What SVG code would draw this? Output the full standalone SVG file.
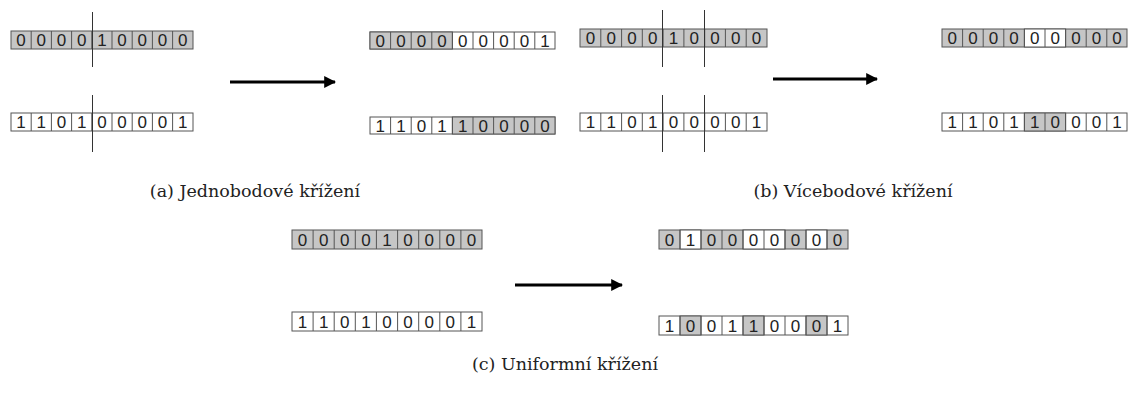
<svg xmlns="http://www.w3.org/2000/svg" width="1130" height="398" viewBox="0 0 1130 398">
  <style>
    .g { fill: #c6c6c6; stroke: #555; stroke-width: 1; }
    .w { fill: #ffffff; stroke: #555; stroke-width: 1; }
    .b { font-family: "Liberation Sans", Arial, sans-serif; font-size: 17px; fill: #222; text-anchor: middle; }
    .cut { stroke: #333; stroke-width: 1; }
    .arr { stroke: #000; stroke-width: 3; fill: none; }
    .cap { font-family: "DejaVu Serif", "Liberation Serif", serif; font-size: 17.5px; fill: #222; text-anchor: middle; }
  </style>
  <defs>
    <marker id="head" viewBox="0 0 10 10" refX="9" refY="5" markerWidth="4" markerHeight="4" orient="auto" markerUnits="strokeWidth">
      <path d="M0,0 L10,5 L0,10 Z" fill="#000"/>
    </marker>
  </defs>

  <!-- (a) one-point crossover -->
  <g id="a-parent1" transform="translate(11,31)">
    <rect class="g" x="0" y="0" width="182" height="18"/>
    <g stroke="#555">
      <line x1="20.2" y1="0" x2="20.2" y2="18"/><line x1="40.4" y1="0" x2="40.4" y2="18"/><line x1="60.6" y1="0" x2="60.6" y2="18"/><line x1="80.8" y1="0" x2="80.8" y2="18"/><line x1="101" y1="0" x2="101" y2="18"/><line x1="121.2" y1="0" x2="121.2" y2="18"/><line x1="141.4" y1="0" x2="141.4" y2="18"/><line x1="161.6" y1="0" x2="161.6" y2="18"/>
    </g>
    <text class="b" y="15.2"><tspan x="10.1">0</tspan><tspan x="30.3">0</tspan><tspan x="50.5">0</tspan><tspan x="70.7">0</tspan><tspan x="90.9">1</tspan><tspan x="111.1">0</tspan><tspan x="131.3">0</tspan><tspan x="151.5">0</tspan><tspan x="171.7">0</tspan></text>
  </g>
  <g id="a-parent2" transform="translate(11,113)">
    <rect class="w" x="0" y="0" width="182" height="18"/>
    <g stroke="#555">
      <line x1="20.2" y1="0" x2="20.2" y2="18"/><line x1="40.4" y1="0" x2="40.4" y2="18"/><line x1="60.6" y1="0" x2="60.6" y2="18"/><line x1="80.8" y1="0" x2="80.8" y2="18"/><line x1="101" y1="0" x2="101" y2="18"/><line x1="121.2" y1="0" x2="121.2" y2="18"/><line x1="141.4" y1="0" x2="141.4" y2="18"/><line x1="161.6" y1="0" x2="161.6" y2="18"/>
    </g>
    <text class="b" y="15.2"><tspan x="10.1">1</tspan><tspan x="30.3">1</tspan><tspan x="50.5">0</tspan><tspan x="70.7">1</tspan><tspan x="90.9">0</tspan><tspan x="111.1">0</tspan><tspan x="131.3">0</tspan><tspan x="151.5">0</tspan><tspan x="171.7">1</tspan></text>
  </g>
  <g id="a-child1" transform="translate(370,32)">
    <rect class="w" x="0" y="0" width="185" height="17"/>
    <rect class="g" x="0" y="0" width="82.4" height="17"/>
    <g stroke="#555">
      <line x1="20.6" y1="0" x2="20.6" y2="17"/><line x1="41.2" y1="0" x2="41.2" y2="17"/><line x1="61.8" y1="0" x2="61.8" y2="17"/><line x1="82.4" y1="0" x2="82.4" y2="17"/><line x1="103" y1="0" x2="103" y2="17"/><line x1="123.6" y1="0" x2="123.6" y2="17"/><line x1="144.2" y1="0" x2="144.2" y2="17"/><line x1="164.8" y1="0" x2="164.8" y2="17"/>
    </g>
    <text class="b" y="14.7"><tspan x="10.3">0</tspan><tspan x="30.9">0</tspan><tspan x="51.5">0</tspan><tspan x="72.1">0</tspan><tspan x="92.7">0</tspan><tspan x="113.3">0</tspan><tspan x="133.9">0</tspan><tspan x="154.5">0</tspan><tspan x="175.1">1</tspan></text>
  </g>
  <g id="a-child2" transform="translate(370,117)">
    <rect class="w" x="0" y="0" width="185" height="17"/>
    <rect class="g" x="82.4" y="0" width="102.6" height="17"/>
    <g stroke="#555">
      <line x1="20.6" y1="0" x2="20.6" y2="17"/><line x1="41.2" y1="0" x2="41.2" y2="17"/><line x1="61.8" y1="0" x2="61.8" y2="17"/><line x1="82.4" y1="0" x2="82.4" y2="17"/><line x1="103" y1="0" x2="103" y2="17"/><line x1="123.6" y1="0" x2="123.6" y2="17"/><line x1="144.2" y1="0" x2="144.2" y2="17"/><line x1="164.8" y1="0" x2="164.8" y2="17"/>
    </g>
    <text class="b" y="14.7"><tspan x="10.3">1</tspan><tspan x="30.9">1</tspan><tspan x="51.5">0</tspan><tspan x="72.1">1</tspan><tspan x="92.7">1</tspan><tspan x="113.3">0</tspan><tspan x="133.9">0</tspan><tspan x="154.5">0</tspan><tspan x="175.1">0</tspan></text>
  </g>

  <!-- (b) multi-point crossover -->
  <g id="b-parent1" transform="translate(580,29)">
    <rect class="g" x="0" y="0" width="187" height="18"/>
    <g stroke="#555">
      <line x1="20.8" y1="0" x2="20.8" y2="18"/><line x1="41.6" y1="0" x2="41.6" y2="18"/><line x1="62.3" y1="0" x2="62.3" y2="18"/><line x1="83.1" y1="0" x2="83.1" y2="18"/><line x1="103.9" y1="0" x2="103.9" y2="18"/><line x1="124.7" y1="0" x2="124.7" y2="18"/><line x1="145.4" y1="0" x2="145.4" y2="18"/><line x1="166.2" y1="0" x2="166.2" y2="18"/>
    </g>
    <text class="b" y="15.2"><tspan x="10.4">0</tspan><tspan x="31.2">0</tspan><tspan x="52">0</tspan><tspan x="72.7">0</tspan><tspan x="93.5">1</tspan><tspan x="114.3">0</tspan><tspan x="135.1">0</tspan><tspan x="155.8">0</tspan><tspan x="176.6">0</tspan></text>
  </g>
  <g id="b-parent2" transform="translate(580,113)">
    <rect class="w" x="0" y="0" width="187" height="18"/>
    <g stroke="#555">
      <line x1="20.8" y1="0" x2="20.8" y2="18"/><line x1="41.6" y1="0" x2="41.6" y2="18"/><line x1="62.3" y1="0" x2="62.3" y2="18"/><line x1="83.1" y1="0" x2="83.1" y2="18"/><line x1="103.9" y1="0" x2="103.9" y2="18"/><line x1="124.7" y1="0" x2="124.7" y2="18"/><line x1="145.4" y1="0" x2="145.4" y2="18"/><line x1="166.2" y1="0" x2="166.2" y2="18"/>
    </g>
    <text class="b" y="15.2"><tspan x="10.4">1</tspan><tspan x="31.2">1</tspan><tspan x="52">0</tspan><tspan x="72.7">1</tspan><tspan x="93.5">0</tspan><tspan x="114.3">0</tspan><tspan x="135.1">0</tspan><tspan x="155.8">0</tspan><tspan x="176.6">1</tspan></text>
  </g>
  <g id="b-child1" transform="translate(942,29)">
    <rect class="g" x="0" y="0" width="185" height="18"/>
    <rect class="w" x="82.4" y="0" width="41.2" height="18"/>
    <g stroke="#555">
      <line x1="20.6" y1="0" x2="20.6" y2="18"/><line x1="41.2" y1="0" x2="41.2" y2="18"/><line x1="61.8" y1="0" x2="61.8" y2="18"/><line x1="82.4" y1="0" x2="82.4" y2="18"/><line x1="103" y1="0" x2="103" y2="18"/><line x1="123.6" y1="0" x2="123.6" y2="18"/><line x1="144.2" y1="0" x2="144.2" y2="18"/><line x1="164.8" y1="0" x2="164.8" y2="18"/>
    </g>
    <text class="b" y="15.2"><tspan x="10.3">0</tspan><tspan x="30.9">0</tspan><tspan x="51.5">0</tspan><tspan x="72.1">0</tspan><tspan x="92.7">0</tspan><tspan x="113.3">0</tspan><tspan x="133.9">0</tspan><tspan x="154.5">0</tspan><tspan x="175.1">0</tspan></text>
  </g>
  <g id="b-child2" transform="translate(942,113)">
    <rect class="w" x="0" y="0" width="185" height="18"/>
    <rect class="g" x="82.4" y="0" width="41.2" height="18"/>
    <g stroke="#555">
      <line x1="20.6" y1="0" x2="20.6" y2="18"/><line x1="41.2" y1="0" x2="41.2" y2="18"/><line x1="61.8" y1="0" x2="61.8" y2="18"/><line x1="82.4" y1="0" x2="82.4" y2="18"/><line x1="103" y1="0" x2="103" y2="18"/><line x1="123.6" y1="0" x2="123.6" y2="18"/><line x1="144.2" y1="0" x2="144.2" y2="18"/><line x1="164.8" y1="0" x2="164.8" y2="18"/>
    </g>
    <text class="b" y="15.2"><tspan x="10.3">1</tspan><tspan x="30.9">1</tspan><tspan x="51.5">0</tspan><tspan x="72.1">1</tspan><tspan x="92.7">1</tspan><tspan x="113.3">0</tspan><tspan x="133.9">0</tspan><tspan x="154.5">0</tspan><tspan x="175.1">1</tspan></text>
  </g>

  <!-- (c) uniform crossover -->
  <g id="c-parent1" transform="translate(292,230)">
    <rect class="g" x="0" y="0" width="190" height="19"/>
    <g stroke="#555">
      <line x1="21.1" y1="0" x2="21.1" y2="19"/><line x1="42.2" y1="0" x2="42.2" y2="19"/><line x1="63.3" y1="0" x2="63.3" y2="19"/><line x1="84.4" y1="0" x2="84.4" y2="19"/><line x1="105.6" y1="0" x2="105.6" y2="19"/><line x1="126.7" y1="0" x2="126.7" y2="19"/><line x1="147.8" y1="0" x2="147.8" y2="19"/><line x1="168.9" y1="0" x2="168.9" y2="19"/>
    </g>
    <text class="b" y="15.8"><tspan x="10.6">0</tspan><tspan x="31.7">0</tspan><tspan x="52.8">0</tspan><tspan x="73.9">0</tspan><tspan x="95">1</tspan><tspan x="116.1">0</tspan><tspan x="137.2">0</tspan><tspan x="158.3">0</tspan><tspan x="179.4">0</tspan></text>
  </g>
  <g id="c-parent2" transform="translate(292,312)">
    <rect class="w" x="0" y="0" width="190" height="19"/>
    <g stroke="#555">
      <line x1="21.1" y1="0" x2="21.1" y2="19"/><line x1="42.2" y1="0" x2="42.2" y2="19"/><line x1="63.3" y1="0" x2="63.3" y2="19"/><line x1="84.4" y1="0" x2="84.4" y2="19"/><line x1="105.6" y1="0" x2="105.6" y2="19"/><line x1="126.7" y1="0" x2="126.7" y2="19"/><line x1="147.8" y1="0" x2="147.8" y2="19"/><line x1="168.9" y1="0" x2="168.9" y2="19"/>
    </g>
    <text class="b" y="15.8"><tspan x="10.6">1</tspan><tspan x="31.7">1</tspan><tspan x="52.8">0</tspan><tspan x="73.9">1</tspan><tspan x="95">0</tspan><tspan x="116.1">0</tspan><tspan x="137.2">0</tspan><tspan x="158.3">0</tspan><tspan x="179.4">1</tspan></text>
  </g>
  <g id="c-child1" transform="translate(659,230)">
    <rect class="g" x="0" y="0" width="189" height="19"/>
    <rect class="w" x="21" y="0" width="21" height="19"/>
    <rect class="w" x="84" y="0" width="42" height="19"/>
    <rect class="w" x="147" y="0" width="21" height="19"/>
    <g stroke="#555">
      <line x1="21" y1="0" x2="21" y2="19"/><line x1="42" y1="0" x2="42" y2="19"/><line x1="63" y1="0" x2="63" y2="19"/><line x1="84" y1="0" x2="84" y2="19"/><line x1="105" y1="0" x2="105" y2="19"/><line x1="126" y1="0" x2="126" y2="19"/><line x1="147" y1="0" x2="147" y2="19"/><line x1="168" y1="0" x2="168" y2="19"/>
    </g>
    <text class="b" y="15.8"><tspan x="10.5">0</tspan><tspan x="31.5">1</tspan><tspan x="52.5">0</tspan><tspan x="73.5">0</tspan><tspan x="94.5">0</tspan><tspan x="115.5">0</tspan><tspan x="136.5">0</tspan><tspan x="157.5">0</tspan><tspan x="178.5">0</tspan></text>
  </g>
  <g id="c-child2" transform="translate(659,316)">
    <rect class="w" x="0" y="0" width="189" height="19"/>
    <rect class="g" x="21" y="0" width="21" height="19"/>
    <rect class="g" x="84" y="0" width="21" height="19"/>
    <rect class="g" x="147" y="0" width="21" height="19"/>
    <g stroke="#555">
      <line x1="21" y1="0" x2="21" y2="19"/><line x1="42" y1="0" x2="42" y2="19"/><line x1="63" y1="0" x2="63" y2="19"/><line x1="84" y1="0" x2="84" y2="19"/><line x1="105" y1="0" x2="105" y2="19"/><line x1="126" y1="0" x2="126" y2="19"/><line x1="147" y1="0" x2="147" y2="19"/><line x1="168" y1="0" x2="168" y2="19"/>
    </g>
    <text class="b" y="15.8"><tspan x="10.5">1</tspan><tspan x="31.5">0</tspan><tspan x="52.5">0</tspan><tspan x="73.5">1</tspan><tspan x="94.5">1</tspan><tspan x="115.5">0</tspan><tspan x="136.5">0</tspan><tspan x="157.5">0</tspan><tspan x="178.5">1</tspan></text>
  </g>

  <!-- crossover points and arrows -->
  <g id="connectors">
    <line class="cut" x1="92.5" y1="12" x2="92.5" y2="67"/>
    <line class="cut" x1="92.5" y1="95" x2="92.5" y2="152"/>
    <line class="cut" x1="662.5" y1="10" x2="662.5" y2="67"/>
    <line class="cut" x1="704.5" y1="10" x2="704.5" y2="67"/>
    <line class="cut" x1="662.5" y1="95" x2="662.5" y2="152"/>
    <line class="cut" x1="704.5" y1="95" x2="704.5" y2="152"/>
    <line class="arr" x1="230" y1="82" x2="335" y2="82" marker-end="url(#head)"/>
    <line class="arr" x1="773" y1="79" x2="877" y2="79" marker-end="url(#head)"/>
    <line class="arr" x1="515" y1="285" x2="622" y2="285" marker-end="url(#head)"/>
  </g>

  <text class="cap" x="255" y="197">(a) Jednobodové křížení</text>
  <text class="cap" x="853" y="197">(b) Vícebodové křížení</text>
  <text class="cap" x="565" y="370">(c) Uniformní křížení</text>
</svg>
